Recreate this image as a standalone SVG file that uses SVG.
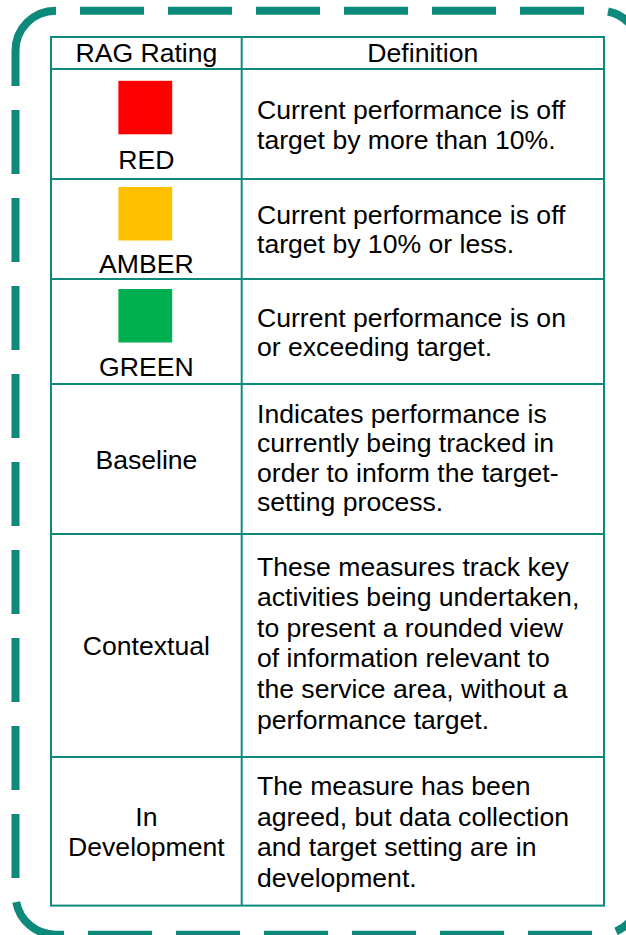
<svg xmlns="http://www.w3.org/2000/svg" width="626" height="935" viewBox="0 0 626 935">
  <style>
    .frame { fill: none; stroke: #0D8A7B; stroke-width: 8; stroke-linecap: butt; }
    .dash { stroke-dasharray: 64 24; }
    .grid { fill: none; stroke: #0D8A7B; stroke-width: 2; }
    text { font-family: "Liberation Sans", Arial, sans-serif; font-size: 26.6px; fill: #000; }
    .c { text-anchor: middle; }
  </style>
  <rect width="626" height="935" fill="#fff"/>
  <g id="frame">
    <path class="frame dash" d="M 80 10.7 L 584 10.7"/>
    <path class="frame dash" d="M 15.5 110 L 15.5 878"/>
    <path class="frame dash" d="M 88 934.7 L 592 934.7"/>
    <path class="frame" d="M 15.5 86 L 15.5 50.7 A 40 40 0 0 1 55.5 10.7 L 56 10.7"/>
    <path class="frame" d="M 608 11.5 A 40 40 0 0 1 640 50.7 L 640 80"/>
    <path class="frame" d="M 16.2 902 A 40 40 0 0 0 55.5 934.7 L 64 934.7"/>
    <path class="frame" d="M 616 931.4 A 40 40 0 0 0 640 894.7 L 640 870"/>
  </g>
  <g id="table-grid">
    <rect class="grid" x="51" y="37" width="553" height="868.6"/>
    <line class="grid" x1="241.7" y1="37" x2="241.7" y2="905.6"/>
    <line class="grid" x1="51" y1="69" x2="604" y2="69"/>
    <line class="grid" x1="51" y1="179" x2="604" y2="179"/>
    <line class="grid" x1="51" y1="279" x2="604" y2="279"/>
    <line class="grid" x1="51" y1="384" x2="604" y2="384"/>
    <line class="grid" x1="51" y1="534" x2="604" y2="534"/>
    <line class="grid" x1="51" y1="757" x2="604" y2="757"/>
  </g>
  <g id="header">
    <text class="c" x="146.4" y="62">RAG Rating</text>
    <text class="c" x="422.8" y="62">Definition</text>
  </g>
  <g id="row-red">
    <rect x="118.4" y="80.8" width="53.8" height="53.5" fill="#FF0000"/>
    <text class="c" x="146.4" y="169">RED</text>
    <text x="257" y="119">Current performance is off</text>
    <text x="257" y="148.5">target by more than 10%.</text>
  </g>
  <g id="row-amber">
    <rect x="118.4" y="187" width="53.8" height="53.5" fill="#FFC000"/>
    <text class="c" x="146.4" y="273">AMBER</text>
    <text x="257" y="223.5">Current performance is off</text>
    <text x="257" y="253">target by 10% or less.</text>
  </g>
  <g id="row-green">
    <rect x="118.4" y="289" width="53.8" height="53.5" fill="#00B050"/>
    <text class="c" x="146.4" y="376">GREEN</text>
    <text x="257" y="326.5">Current performance is on</text>
    <text x="257" y="356">or exceeding target.</text>
  </g>
  <g id="row-baseline">
    <text class="c" x="146.4" y="468.5">Baseline</text>
    <text x="257" y="422.5">Indicates performance is</text>
    <text x="257" y="452">currently being tracked in</text>
    <text x="257" y="481.5">order to inform the target-</text>
    <text x="257" y="511">setting process.</text>
  </g>
  <g id="row-contextual">
    <text class="c" x="146.4" y="655">Contextual</text>
    <text x="257" y="575.5">These measures track key</text>
    <text x="257" y="606.1">activities being undertaken,</text>
    <text x="257" y="636.7">to present a rounded view</text>
    <text x="257" y="667.3">of information relevant to</text>
    <text x="257" y="697.9">the service area, without a</text>
    <text x="257" y="728.5">performance target.</text>
  </g>
  <g id="row-development">
    <text class="c" x="146.4" y="825.5">In</text>
    <text class="c" x="146.4" y="856">Development</text>
    <text x="257" y="795">The measure has been</text>
    <text x="257" y="825.5">agreed, but data collection</text>
    <text x="257" y="856">and target setting are in</text>
    <text x="257" y="886.5">development.</text>
  </g>
</svg>
